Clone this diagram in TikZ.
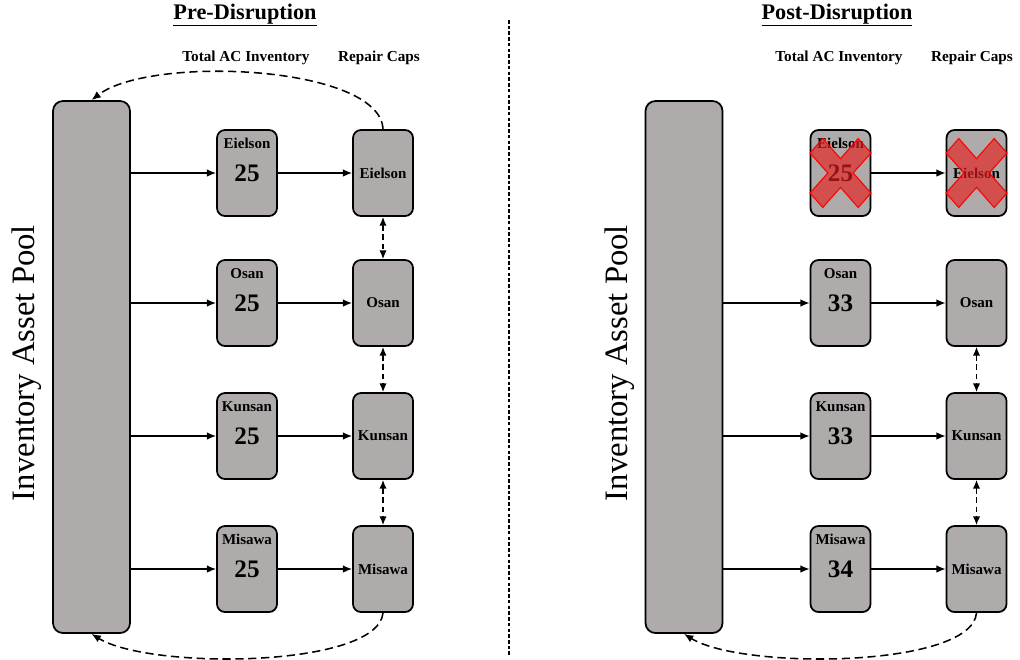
\documentclass[tikz,border=0pt]{standalone}
\usepackage{fontspec}
\setmainfont{Liberation Serif}
\usepackage{tikz}
\usetikzlibrary{positioning,arrows.meta}
\definecolor{poolgray}{RGB}{175,171,170}
\definecolor{crossred}{RGB}{230,30,30}
\newcommand{\knockout}[1]{%
  \path[knock,shift={(#1.center)}] (0,-14.4) -- (17.7,-34.5) -- (30.5,-20) -- (12.7,0) -- (30.5,20) -- (17.7,34.5)
    -- (0,14.4) -- (-17.7,34.5) -- (-30.5,20) -- (-12.7,0) -- (-30.5,-20) -- (-17.7,-34.5) -- cycle;}

\begin{document}
\begin{tikzpicture}[x=0.03cm,y=-0.03cm,
  site/.style={draw,line width=1.5pt,rounded corners=2.4mm,fill=poolgray,minimum width=1.8cm,minimum height=2.58cm,inner sep=0pt},
  pool/.style={draw,line width=1.5pt,rounded corners=3mm,fill=poolgray,minimum width=2.31cm,minimum height=15.96cm},
  sitename/.style={font=\fontsize{12.8}{14}\selectfont\bfseries,inner sep=1pt},
  count/.style={font=\fontsize{21.5}{24}\selectfont\bfseries,inner sep=0pt},
  colhead/.style={font=\fontsize{13}{15}\selectfont\bfseries},
  paneltitle/.style={font=\fontsize{19}{22}\selectfont\bfseries},
  poollabel/.style={font=\fontsize{27.9}{32}\selectfont,rotate=90},
  flow/.style={-{Latex[length=2.8mm,width=2.3mm]},line width=1.2pt},
  swap/.style={{Latex[length=2.6mm,width=2.2mm]}-{Latex[length=2.6mm,width=2.2mm]},line width=1.2pt,dash pattern=on 5pt off 3pt},
  recycle/.style={-{Latex[length=2.8mm,width=2.3mm]},line width=1.3pt,dash pattern=on 7pt off 4pt},
  knock/.style={draw=red,line width=0.9pt,fill=crossred,fill opacity=0.65}]
\useasboundingbox (0,0) rectangle (1020,659);

% divider
\coordinate (dtop) at (509,20);
\coordinate (dbot) at (509,655);
\draw[line width=1.1pt,dash pattern=on 3pt off 1.9pt] (dtop) -- (dbot);

% ---- pre-disruption ----
\node[paneltitle] (tA) at (245,15) {\underline{Pre-Disruption}};
\node[colhead] (hiA) at (246,58) {Total AC Inventory};
\node[colhead] (hrA) at (379,58) {Repair Caps};
\node[pool] (pA) at (91.5,367) {};
\node[poollabel] (lA) at (27,363) {Inventory Asset Pool};

\node[site] (ieA) at (247,173) {};
\node[site] (ioA) at (247,303) {};
\node[site] (ikA) at (247,436) {};
\node[site] (imA) at (247,569) {};
\node[sitename,below=2.3mm of ieA.north] {Eielson};
\node[sitename,below=2.3mm of ioA.north] {Osan};
\node[sitename,below=2.3mm of ikA.north] {Kunsan};
\node[sitename,below=2.3mm of imA.north] {Misawa};
\node[count] at (ieA) {25};
\node[count] at (ioA) {25};
\node[count] at (ikA) {25};
\node[count] at (imA) {25};

\node[site,sitename] (reA) at (383,173) {Eielson};
\node[site,sitename] (roA) at (383,303) {Osan};
\node[site,sitename] (rkA) at (383,436) {Kunsan};
\node[site,sitename] (rmA) at (383,569) {Misawa};

\draw[flow] (pA.east |- ieA) -- (ieA);
\draw[flow] (pA.east |- ioA) -- (ioA);
\draw[flow] (pA.east |- ikA) -- (ikA);
\draw[flow] (pA.east |- imA) -- (imA);
\draw[flow] (ieA) -- (reA);
\draw[flow] (ioA) -- (roA);
\draw[flow] (ikA) -- (rkA);
\draw[flow] (imA) -- (rmA);
\draw[swap] (reA) -- (roA);
\draw[swap] (roA) -- (rkA);
\draw[swap] (rkA) -- (rmA);
\draw[recycle] (reA.north) .. controls (380,65) and (150,55) .. (pA.north);
\draw[recycle] (rmA.south) .. controls (378,668) and (150,670) .. (pA.south);

% ---- post-disruption ----
\node[paneltitle] (tB) at (837,15) {\underline{Post-Disruption}};
\node[colhead] (hiB) at (839,58) {Total AC Inventory};
\node[colhead] (hrB) at (972,58) {Repair Caps};
\node[pool] (pB) at (684,367) {};
\node[poollabel] (lB) at (620,363) {Inventory Asset Pool};

\node[site] (ieB) at (840.5,173) {};
\node[site] (ioB) at (840.5,303) {};
\node[site] (ikB) at (840.5,436) {};
\node[site] (imB) at (840.5,569) {};
\node[sitename,below=2.3mm of ieB.north] {Eielson};
\node[sitename,below=2.3mm of ioB.north] {Osan};
\node[sitename,below=2.3mm of ikB.north] {Kunsan};
\node[sitename,below=2.3mm of imB.north] {Misawa};
\node[count] at (ieB) {25};
\node[count] at (ioB) {33};
\node[count] at (ikB) {33};
\node[count] at (imB) {34};

\node[site,sitename] (reB) at (976.5,173) {Eielson};
\node[site,sitename] (roB) at (976.5,303) {Osan};
\node[site,sitename] (rkB) at (976.5,436) {Kunsan};
\node[site,sitename] (rmB) at (976.5,569) {Misawa};

\draw[flow] (pB.east |- ioB) -- (ioB);
\draw[flow] (pB.east |- ikB) -- (ikB);
\draw[flow] (pB.east |- imB) -- (imB);
\draw[flow] (ieB) -- (reB);
\draw[flow] (ioB) -- (roB);
\draw[flow] (ikB) -- (rkB);
\draw[flow] (imB) -- (rmB);
\draw[swap] (roB) -- (rkB);
\draw[swap] (rkB) -- (rmB);
\draw[recycle] (rmB.south) .. controls (972,668) and (742,670) .. (pB.south);

% closed site
\knockout{ieB}
\knockout{reB}
\end{tikzpicture}
\end{document}
